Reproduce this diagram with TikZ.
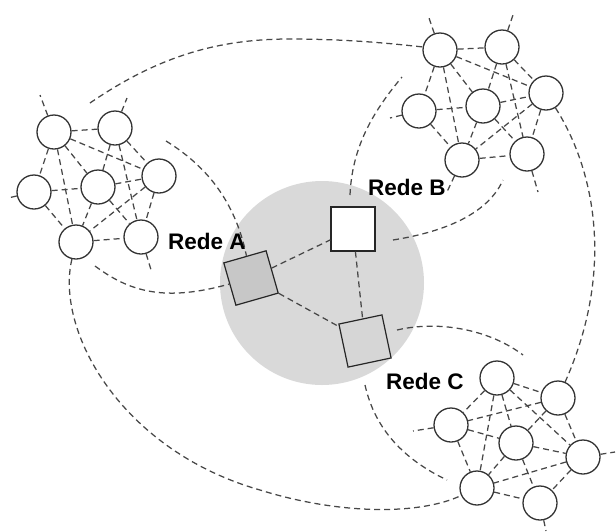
\documentclass[tikz,border=0pt]{standalone}
\usepackage{fontspec}
\setmainfont{Liberation Sans}
\begin{document}
\begin{tikzpicture}[x=1pt,y=-1pt,
  nd/.style={circle,draw=black!80,line width=1.3pt,fill=white,minimum size=34pt,inner sep=0pt},
  dl/.style={dash pattern=on 6pt off 4pt,line width=1.25pt,draw=black!72},
  sqbox/.style={draw=black!85,line width=1.2pt,minimum size=44pt,inner sep=0pt},
  lbl/.style={font=\bfseries\fontsize{22.5}{24}\selectfont,inner sep=0pt}]
\useasboundingbox (0,0) rectangle (616,531);
% hub
\node[circle,fill=black!15,minimum size=204pt,inner sep=0pt] (hub) at (322,283) {};
\node[sqbox,fill=black!22,rotate=16] (SA) at (251,278) {};
\node[sqbox,fill=white] (SB) at (353,229) {};
\node[sqbox,fill=black!16,rotate=12] (SC) at (365,341) {};
\draw[dl] (SA) -- (SB);
\draw[dl] (SA) -- (SC);
\draw[dl] (SB) -- (SC);
% cluster A
\node[nd] (A1) at (54,132) {};
\node[nd] (A2) at (115,128) {};
\node[nd] (A3) at (34,192) {};
\node[nd] (A4) at (98,187) {};
\node[nd] (A5) at (159,176) {};
\node[nd] (A6) at (76,242) {};
\node[nd] (A7) at (141,237) {};
% cluster B
\node[nd] (B1) at (440,50) {};
\node[nd] (B2) at (502,47) {};
\node[nd] (B3) at (419,111) {};
\node[nd] (B4) at (483,106) {};
\node[nd] (B5) at (546,93) {};
\node[nd] (B6) at (462,160) {};
\node[nd] (B7) at (527,154) {};
% cluster C
\node[nd] (C1) at (497,378) {};
\node[nd] (C2) at (558,398) {};
\node[nd] (C3) at (451,425) {};
\node[nd] (C4) at (516,443) {};
\node[nd] (C5) at (583,457) {};
\node[nd] (C6) at (477,488) {};
\node[nd] (C7) at (540,503) {};
% internal edges
\foreach \p in {A,B}{
  \foreach \u/\v in {1/2,1/3,1/4,1/5,1/6,2/4,2/5,2/7,3/4,3/6,4/5,4/6,4/7,5/6,5/7,6/7}
    \draw[dl] (\p\u) -- (\p\v);
}
\foreach \u/\v in {1/2,1/3,1/4,1/5,1/6,2/3,2/4,2/5,3/4,3/6,4/5,4/6,4/7,5/6,5/7,6/7}
  \draw[dl] (C\u) -- (C\v);
% stubs
\coordinate (sA1) at (40,95);
\coordinate (sA2) at (127,98);
\coordinate (sA3) at (8,198);
\coordinate (sA7) at (152,273);
\coordinate (sB1) at (428,15);
\coordinate (sB2) at (513,15);
\coordinate (sB3) at (390,118);
\coordinate (sB6) at (446,194);
\coordinate (sB7) at (538,192);
\coordinate (sC3) at (413,431);
\coordinate (sC5) at (615,452);
\coordinate (sC7) at (546,531);
\draw[dl] (A1) -- (sA1);
\draw[dl] (A2) -- (sA2);
\draw[dl] (A3) -- (sA3);
\draw[dl] (A7) -- (sA7);
\draw[dl] (B1) -- (sB1);
\draw[dl] (B2) -- (sB2);
\draw[dl] (B3) -- (sB3);
\draw[dl] (B6) -- (sB6);
\draw[dl] (B7) -- (sB7);
\draw[dl] (C3) -- (sC3);
\draw[dl] (C5) -- (sC5);
\draw[dl] (C7) -- (sC7);
% long curves
\coordinate (t1) at (90,103);
\draw[dl] (t1) .. controls (160,55) and (220,39) .. (290,39) .. controls (350,39) and (395,44) .. (B1.170);
\coordinate (t2) at (166,141);
\draw[dl] (t2) .. controls (205,165) and (235,200) .. (SA);
\coordinate (t3) at (95,266);
\draw[dl] (t3) .. controls (130,292) and (165,302) .. (SA);
\draw[dl] (A6) .. controls (55,330) and (120,450) .. (260,490) .. controls (340,515) and (420,515) .. (C6);
\coordinate (t5a) at (365,385);
\coordinate (t5b) at (447,480);
\draw[dl] (t5a) .. controls (375,430) and (405,460) .. (t5b);
\coordinate (t6a) at (397,330);
\coordinate (t6b) at (523,355);
\draw[dl] (t6a) .. controls (440,320) and (490,330) .. (t6b);
\coordinate (t7a) at (393,240);
\coordinate (t7b) at (503,180);
\draw[dl] (t7a) .. controls (430,234) and (485,220) .. (t7b);
\coordinate (t8a) at (350,195);
\coordinate (t8b) at (402,77);
\draw[dl] (t8a) .. controls (352,150) and (370,115) .. (t8b);
\draw[dl] (B5) .. controls (595,170) and (615,270) .. (C2);
% labels
\node[lbl] (LA) at (207,241) {Rede A};
\node[lbl] (LB) at (407,187) {Rede B};
\node[lbl] (LC) at (425,381) {Rede C};
\end{tikzpicture}
\end{document}
